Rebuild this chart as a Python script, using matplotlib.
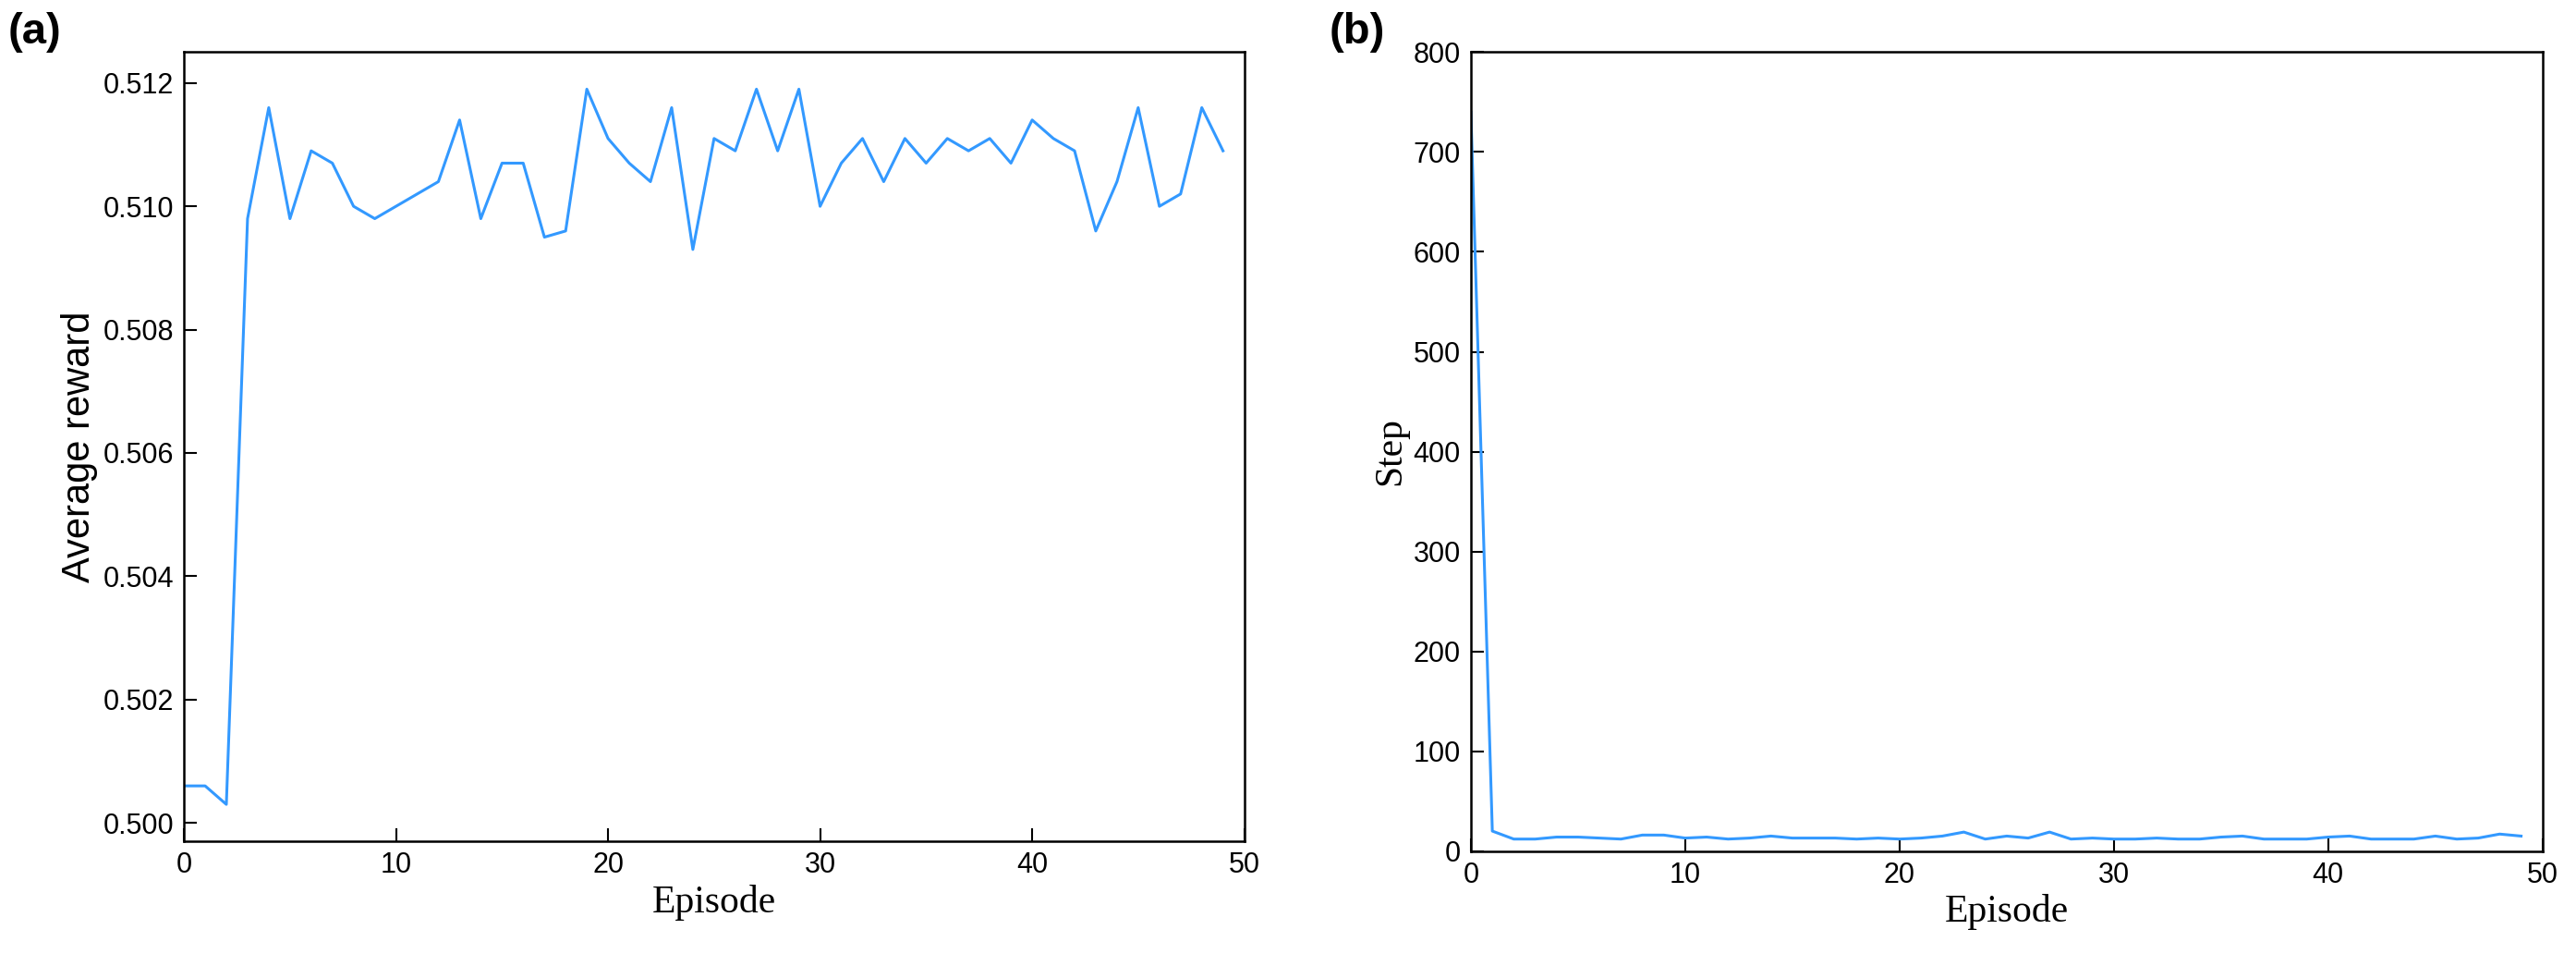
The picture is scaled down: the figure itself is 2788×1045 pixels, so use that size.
import numpy as np
import matplotlib.pyplot as plt

episodes = np.arange(50)
avg_reward = [0.5006, 0.5006, 0.5003, 0.5098, 0.5116, 0.5098, 0.5109, 0.5107, 0.5100, 0.5098,
              0.5100, 0.5102, 0.5104, 0.5114, 0.5098, 0.5107, 0.5107, 0.5095, 0.5096, 0.5119,
              0.5111, 0.5107, 0.5104, 0.5116, 0.5093, 0.5111, 0.5109, 0.5119, 0.5109, 0.5119,
              0.5100, 0.5107, 0.5111, 0.5104, 0.5111, 0.5107, 0.5111, 0.5109, 0.5111, 0.5107,
              0.5114, 0.5111, 0.5109, 0.5096, 0.5104, 0.5116, 0.5100, 0.5102, 0.5116, 0.5109]
steps = [740, 20, 12, 12, 14, 14, 13, 12, 16, 16, 13, 14, 12, 13, 15, 13, 13, 13, 12, 13,
         12, 13, 15, 19, 12, 15, 13, 19, 12, 13, 12, 12, 13, 12, 12, 14, 15, 12, 12, 12,
         14, 15, 12, 12, 12, 15, 12, 13, 17, 15]

color = '#3399ff'
tick_font = 'Liberation Sans'
label_font = 'Liberation Serif'

fig = plt.figure(figsize=(27.88, 10.45), dpi=100)
ax1 = fig.add_axes([0.0714, 0.129, 0.4116, 0.817])
ax2 = fig.add_axes([0.571, 0.119, 0.416, 0.827])

ax1.plot(episodes, avg_reward, color=color, linewidth=2.2)
ax1.set_xlim(0, 50)
ax1.set_ylim(0.4997, 0.5125)
ax1.set_yticks([0.500, 0.502, 0.504, 0.506, 0.508, 0.510, 0.512])
ax1.set_yticklabels([f'{v:.3f}' for v in ax1.get_yticks()])
ax1.set_xlabel('Episode', fontsize=30, family=label_font)
ax1.set_ylabel('Average reward', fontsize=30, family=tick_font)

ax2.plot(episodes, steps, color=color, linewidth=2.2)
ax2.set_xlim(0, 50)
ax2.set_ylim(0, 800)
ax2.set_yticks(range(0, 801, 100))
ax2.set_xlabel('Episode', fontsize=30, family=label_font)
ax2.set_ylabel('Step', fontsize=30, family=label_font)

for ax in (ax1, ax2):
    ax.set_xticks(range(0, 51, 10))
    ax.tick_params(direction='in', length=10, width=1.5, labelsize=22, pad=8)
    for lab in ax.get_xticklabels() + ax.get_yticklabels():
        lab.set_family(tick_font)
    for sp in ax.spines.values():
        sp.set_linewidth(1.8)

fig.text(0.003, 0.955, '(a)', fontsize=34, fontweight='bold', family=tick_font)
fig.text(0.516, 0.955, '(b)', fontsize=34, fontweight='bold', family=tick_font)

fig.savefig('out.png', dpi=100)
